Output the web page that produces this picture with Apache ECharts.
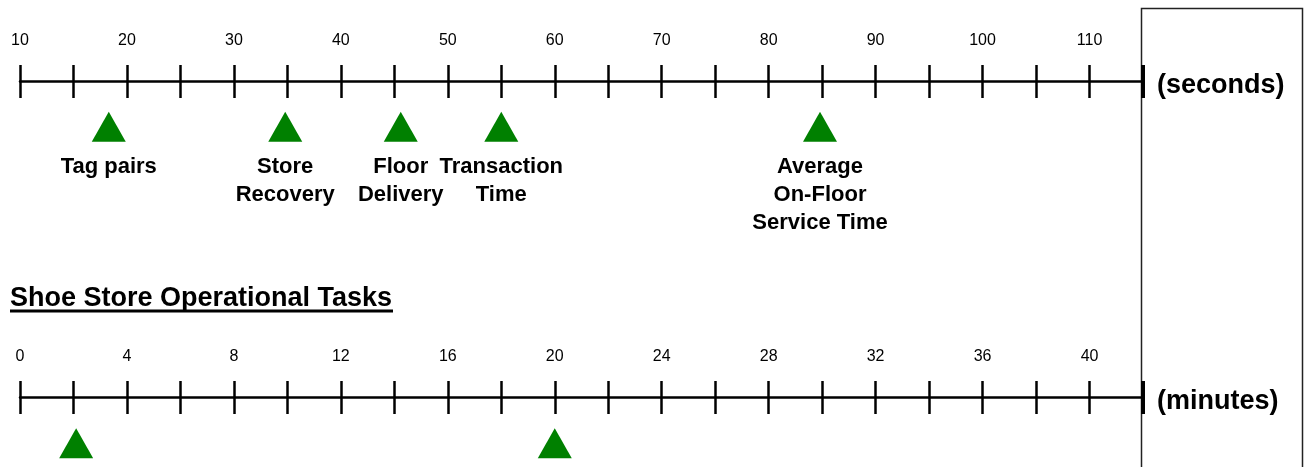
<!DOCTYPE html>
<html><head><meta charset="utf-8">
<script src="https://cdn.jsdelivr.net/npm/echarts@6/dist/echarts.min.js"></script>
<style>html,body{margin:0;padding:0;background:#fff}#c{width:1305px;height:467px}</style>
</head><body><div id="c"></div>
<script>
// ---- data ----
const secondsTickLabels = ['10','20','30','40','50','60','70','80','90','100','110'];
const minutesTickLabels = ['0','4','8','12','16','20','24','28','32','36','40'];
const secondsRange = [10, 115];
const minutesRange = [0, 42];
const secondsStep = 5;
const minutesStep = 2;
const taskNames = ['Tag pairs', 'Store\nRecovery', 'Floor\nDelivery', 'Transaction\nTime', 'Average\nOn-Floor\nService Time'];
const taskSeconds = [18.3, 34.8, 45.6, 55, 84.8];
const minuteMarks = [2.1, 20];
const titleText = 'Shoe Store Operational Tasks';

const FONT = '"Liberation Sans", Arial, Helvetica, sans-serif';
const chart = echarts.init(document.getElementById('c'), null, {renderer: 'canvas'});

function axisBlock(gridIndex, range, step, labels, unit) {
  return {
    gridIndex, type: 'value', min: range[0], max: range[1], interval: step,
    position: 'top',
    axisLine: {show: true, onZero: true, lineStyle: {color: '#000', width: 2.5}},
    axisTick: {show: false},
    splitLine: {show: true, lineStyle: {color: '#000', width: 2.5}},
    axisLabel: {
      show: true, margin: 16, fontSize: 16, color: '#000', fontFamily: FONT,
      hideOverlap: false,
      formatter: v => labels.includes(String(v)) ? String(v) : ''
    },
    name: unit, nameLocation: 'end', nameGap: 14,
    nameTextStyle: {fontSize: 27, fontWeight: 'bold', color: '#000', fontFamily: FONT,
      verticalAlign: 'top', lineHeight: 8}
  };
}
function hiddenX(gridIndex, range) {
  return {gridIndex, type: 'value', min: range[0], max: range[1], show: false};
}
function hiddenY(gridIndex) {
  return {gridIndex, type: 'value', min: -1, max: 1, show: false};
}
function endTick(axisIndex, range) {
  return {
    type: 'line', xAxisIndex: axisIndex, yAxisIndex: axisIndex, data: [[range[1], 0]],
    showSymbol: false, silent: true, lineStyle: {width: 0},
    markLine: {silent: true, symbol: 'none', label: {show: false},
      lineStyle: {color: '#000', width: 4, type: 'solid'}, data: [{xAxis: range[1]}]}
  };
}

const gridBase = {left: 20, right: 162, outerBoundsMode: 'none', containLabel: false};
const option = {
  animation: false,
  backgroundColor: '#fff',
  grid: [
    Object.assign({top: 65, height: 33}, gridBase),
    Object.assign({top: 106.7, height: 40}, gridBase),
    Object.assign({top: 381, height: 33}, gridBase),
    Object.assign({top: 423.3, height: 40}, gridBase)
  ],
  xAxis: [
    axisBlock(0, secondsRange, secondsStep, secondsTickLabels, '(seconds)'),
    hiddenX(1, secondsRange),
    axisBlock(2, minutesRange, minutesStep, minutesTickLabels, '(minutes)'),
    hiddenX(3, minutesRange)
  ],
  yAxis: [hiddenY(0), hiddenY(1), hiddenY(2), hiddenY(3)],
  series: [
    endTick(0, secondsRange),
    endTick(2, minutesRange),
    {
      type: 'scatter', xAxisIndex: 1, yAxisIndex: 1,
      symbol: 'triangle', symbolSize: [34, 30],
      itemStyle: {color: '#008000', opacity: 1},
      label: {show: true, position: 'bottom', distance: 11, formatter: p => p.name,
        fontSize: 22, fontWeight: 'bold', color: '#000', opacity: 1, fontFamily: FONT, lineHeight: 28, align: 'center'},
      data: taskSeconds.map((v, i) => ({name: taskNames[i], value: [v, 0]}))
    },
    {
      type: 'scatter', xAxisIndex: 3, yAxisIndex: 3,
      symbol: 'triangle', symbolSize: [34, 30],
      itemStyle: {color: '#008000', opacity: 1},
      data: minuteMarks.map(v => [v, 0])
    }
  ],
  graphic: [
    {type: 'rect', silent: true, shape: {x: 1141.5, y: 8.5, width: 161, height: 470},
      style: {fill: 'none', stroke: '#222', lineWidth: 1.5}},
    {type: 'text', silent: true, x: 10, y: 299,
      style: {text: titleText, fill: '#000', fontSize: 27, fontWeight: 'bold', fontFamily: FONT, verticalAlign: 'middle', align: 'left'}},
    {type: 'line', silent: true, shape: {x1: 10, y1: 311, x2: 393, y2: 311},
      style: {stroke: '#000', lineWidth: 3}}
  ]
};
chart.setOption(option);
</script>
</body></html>
